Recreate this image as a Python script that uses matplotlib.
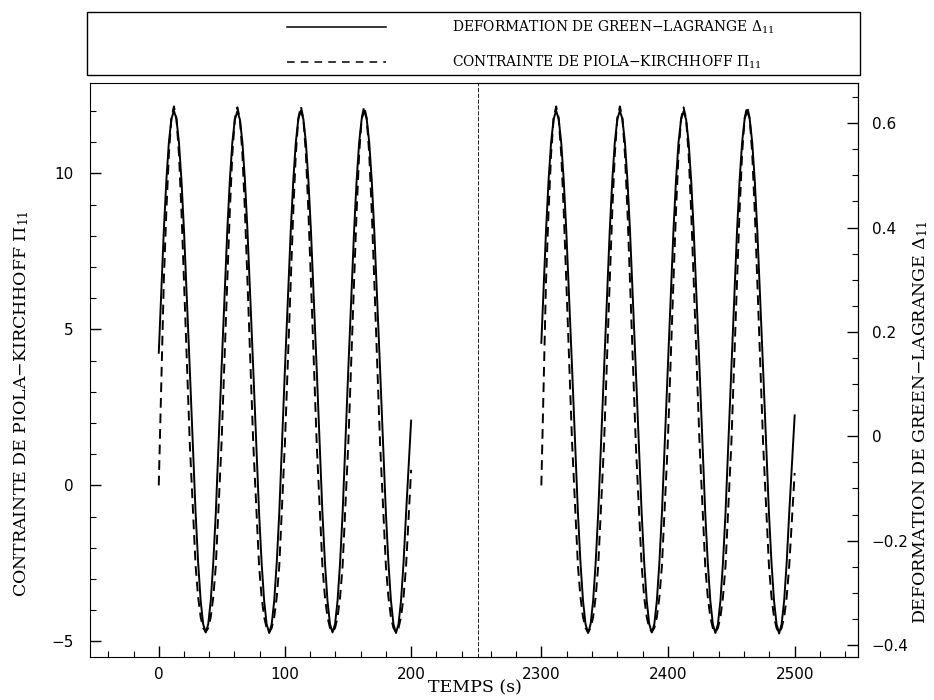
import matplotlib
matplotlib.use("Agg")
import matplotlib.pyplot as plt
from matplotlib.ticker import MultipleLocator, FixedLocator
from matplotlib.lines import Line2D
from matplotlib.patches import Rectangle

plt.rcParams['mathtext.fontset'] = 'dejavuserif'

# temps (s), premier bloc de cycles
t_a = [0,
       4, 6, 8, 10, 12, 14, 16, 18, 20,
       24.6,
       29.2, 31.2, 33.2, 35.2, 37.2, 39.2, 41.2, 43.2, 45.2,
       49.7,
       54.3, 56.3, 58.3, 60.3, 62.3, 64.3, 66.3, 68.3, 70.3,
       74.9,
       79.5, 81.5, 83.5, 85.5, 87.5, 89.5, 91.5, 93.5, 95.5,
       100,
       104.6, 106.6, 108.6, 110.6, 112.6, 114.6, 116.6, 118.6, 120.6,
       125.2,
       129.7, 131.7, 133.7, 135.7, 137.7, 139.7, 141.7, 143.7, 145.7,
       150.2,
       154.8, 156.8, 158.8, 160.8, 162.8, 164.8, 166.8, 168.8, 170.8,
       175.4,
       180, 182, 184, 186, 188, 190, 192, 194, 196,
       200]
# deformation de Green-Lagrange
eps_a = [0.160,
         0.394, 0.490, 0.563, 0.608, 0.624, 0.608, 0.563, 0.490, 0.394,
         0.128,
         -0.147, -0.242, -0.315, -0.360, -0.376, -0.360, -0.315, -0.242, -0.147,
         0.126,
         0.394, 0.490, 0.563, 0.607, 0.623, 0.607, 0.563, 0.490, 0.394,
         0.128,
         -0.147, -0.242, -0.315, -0.360, -0.377, -0.360, -0.315, -0.242, -0.147,
         0.130,
         0.394, 0.490, 0.563, 0.608, 0.624, 0.608, 0.563, 0.490, 0.394,
         0.127,
         -0.147, -0.242, -0.315, -0.360, -0.376, -0.360, -0.315, -0.242, -0.147,
         0.128,
         0.394, 0.490, 0.563, 0.608, 0.624, 0.608, 0.563, 0.490, 0.394,
         0.128,
         -0.147, -0.242, -0.315, -0.360, -0.377, -0.360, -0.315, -0.242, -0.147,
         0.030]
# contrainte de Piola-Kirchhoff
sig_a = [0.0,
         6.55, 8.78, 10.62, 11.77, 12.15, 11.77, 10.62, 8.78, 6.55,
         1.33,
         -2.58, -3.58, -4.22, -4.57, -4.69, -4.57, -4.22, -3.58, -2.58,
         1.30,
         6.55, 8.78, 10.62, 11.75, 12.12, 11.75, 10.62, 8.78, 6.55,
         1.33,
         -2.58, -3.58, -4.22, -4.57, -4.71, -4.57, -4.22, -3.58, -2.58,
         1.38,
         6.55, 8.78, 10.62, 11.77, 12.15, 11.77, 10.62, 8.78, 6.55,
         1.31,
         -2.58, -3.58, -4.22, -4.57, -4.69, -4.57, -4.22, -3.58, -2.58,
         1.33,
         6.55, 8.78, 10.62, 11.77, 12.15, 11.77, 10.62, 8.78, 6.55,
         1.33,
         -2.58, -3.58, -4.22, -4.57, -4.71, -4.57, -4.22, -3.58, -2.58,
         0.5]

# temps (s), second bloc de cycles
t_b = [2300,
       2303.7, 2305.7, 2307.7, 2309.7, 2311.7, 2313.7, 2315.7, 2317.7, 2319.7,
       2324.3,
       2328.9, 2330.9, 2332.9, 2334.9, 2336.9, 2338.9, 2340.9, 2342.9, 2344.9,
       2349.5,
       2354, 2356, 2358, 2360, 2362, 2364, 2366, 2368, 2370,
       2374.6,
       2379.2, 2381.2, 2383.2, 2385.2, 2387.2, 2389.2, 2391.2, 2393.2, 2395.2,
       2399.8,
       2404.3, 2406.3, 2408.3, 2410.3, 2412.3, 2414.3, 2416.3, 2418.3, 2420.3,
       2424.9,
       2429.4, 2431.4, 2433.4, 2435.4, 2437.4, 2439.4, 2441.4, 2443.4, 2445.4,
       2450,
       2454.5, 2456.5, 2458.5, 2460.5, 2462.5, 2464.5, 2466.5, 2468.5, 2470.5,
       2475.1,
       2479.7, 2481.7, 2483.7, 2485.7, 2487.7, 2489.7, 2491.7, 2493.7, 2495.7,
       2500]
eps_b = [0.179,
         0.394, 0.490, 0.563, 0.608, 0.624, 0.608, 0.563, 0.490, 0.394,
         0.129,
         -0.147, -0.242, -0.315, -0.360, -0.377, -0.360, -0.315, -0.242, -0.147,
         0.128,
         0.394, 0.490, 0.563, 0.608, 0.624, 0.608, 0.563, 0.490, 0.394,
         0.127,
         -0.147, -0.242, -0.315, -0.360, -0.376, -0.360, -0.315, -0.242, -0.147,
         0.128,
         0.394, 0.490, 0.563, 0.607, 0.623, 0.607, 0.563, 0.490, 0.394,
         0.129,
         -0.147, -0.242, -0.315, -0.360, -0.377, -0.360, -0.315, -0.242, -0.147,
         0.128,
         0.394, 0.490, 0.563, 0.608, 0.624, 0.608, 0.563, 0.490, 0.394,
         0.128,
         -0.147, -0.242, -0.315, -0.360, -0.378, -0.360, -0.315, -0.242, -0.147,
         0.040]
sig_b = [0.0,
         6.55, 8.78, 10.62, 11.77, 12.15, 11.77, 10.62, 8.78, 6.55,
         1.35,
         -2.58, -3.58, -4.22, -4.57, -4.71, -4.57, -4.22, -3.58, -2.58,
         1.33,
         6.55, 8.78, 10.62, 11.77, 12.15, 11.77, 10.62, 8.78, 6.55,
         1.31,
         -2.58, -3.58, -4.22, -4.57, -4.69, -4.57, -4.22, -3.58, -2.58,
         1.33,
         6.55, 8.78, 10.62, 11.75, 12.12, 11.75, 10.62, 8.78, 6.55,
         1.35,
         -2.58, -3.58, -4.22, -4.57, -4.71, -4.57, -4.22, -3.58, -2.58,
         1.33,
         6.55, 8.78, 10.62, 11.77, 12.15, 11.77, 10.62, 8.78, 6.55,
         1.33,
         -2.58, -3.58, -4.22, -4.57, -4.73, -4.57, -4.22, -3.58, -2.58,
         0.4]

lab_eps = r'DEFORMATION DE GREEN$-$LAGRANGE $\Delta_{11}$'
lab_sig = r'CONTRAINTE DE PIOLA$-$KIRCHHOFF $\Pi_{11}$'

W, H = 934, 700
fig = plt.figure(figsize=(W / 100, H / 100), dpi=100)
L, R, B, T = 90 / W, 858 / W, 1 - 657 / H, 1 - 83 / H
xb = 478 / W
ax1 = fig.add_axes([L, B, xb - L, T - B])
ax2 = fig.add_axes([xb, B, R - xb, T - B], sharey=ax1)
ax1t = ax1.twinx()
ax2t = ax2.twinx()

dash = (0, (5, 3))
ax1.plot(t_a, sig_a, color='black', lw=1.4, ls=dash)
ax2.plot(t_b, sig_b, color='black', lw=1.4, ls=dash)
ax1t.plot(t_a, eps_a, color='black', lw=1.4)
ax2t.plot(t_b, eps_b, color='black', lw=1.4)

ax1.set_xlim(-54.5, 253)
ax2.set_xlim(2250, 2550)
ax1.set_ylim(-5.5, 12.9)
ax1t.set_ylim(-0.423, 0.677)
ax2t.set_ylim(-0.423, 0.677)

tick_font = dict(family='DejaVu Sans', size=11)

# axe x
ax1.xaxis.set_major_locator(FixedLocator([0, 100, 200]))
ax2.xaxis.set_major_locator(FixedLocator([2300, 2400, 2500]))
ax1.set_xticklabels(['0', '100', '200'])
ax2.set_xticklabels(['2300', '2400', '2500'])
for ax in (ax1, ax2):
    ax.xaxis.set_minor_locator(MultipleLocator(20))
    ax.tick_params(axis='x', which='major', direction='in', length=8, width=1, pad=7)
    ax.tick_params(axis='x', which='minor', direction='in', length=4, width=0.8)
    for lbl in ax.get_xticklabels():
        lbl.set_fontproperties(tick_font)

# axe y gauche
ax1.yaxis.set_major_locator(FixedLocator([-5, 0, 5, 10]))
ax1.set_yticklabels(['\u22125', '0', '5', '10'])
ax1.yaxis.set_minor_locator(MultipleLocator(1))
ax1.tick_params(axis='y', which='major', direction='in', length=8, width=1, pad=12)
ax1.tick_params(axis='y', which='minor', direction='in', length=4, width=0.8)
for lbl in ax1.get_yticklabels():
    lbl.set_fontproperties(tick_font)
ax2.tick_params(axis='y', which='both', left=False, labelleft=False)

# axe y droit
ax2t.yaxis.set_major_locator(FixedLocator([-0.4, -0.2, 0, 0.2, 0.4, 0.6]))
ax2t.set_yticklabels(['\u22120.4', '\u22120.2', '0', '0.2', '0.4', '0.6'])
ax2t.yaxis.set_minor_locator(MultipleLocator(0.05))
ax2t.tick_params(axis='y', which='major', direction='in', length=8, width=1, pad=10)
ax2t.tick_params(axis='y', which='minor', direction='in', length=4, width=0.8)
for lbl in ax2t.get_yticklabels():
    lbl.set_fontproperties(tick_font)
ax1t.tick_params(axis='y', which='both', right=False, labelright=False)

# cadres et coupure
for sp in ax1t.spines.values():
    sp.set_visible(False)
ax2t.spines['left'].set_visible(False)
ax1.spines['right'].set_visible(False)
ax2.spines['left'].set_linestyle((0, (4, 3)))
ax2.spines['left'].set_linewidth(0.6)

# titres des axes
lab_font = dict(family='DejaVu Serif', size=12.5)
fig.text(0.508, 1 - 688 / H, 'TEMPS (s)', ha='center', va='center', fontdict=lab_font)
fig.text(22 / W, 1 - 404 / H, lab_sig, rotation=90, ha='center', va='center', fontdict=lab_font)
fig.text(921 / W, 1 - 422 / H, lab_eps, rotation=90, ha='center', va='center', fontdict=lab_font)

# legende encadree en haut
leg_font = dict(family='DejaVu Serif', size=10)
fig.patches.append(Rectangle((87 / W, 1 - 75 / H), (860 - 87) / W, 63 / H,
                             transform=fig.transFigure, fill=False, lw=1, ec='black'))
fig.lines.append(Line2D([287 / W, 386 / W], [1 - 27 / H, 1 - 27 / H],
                        transform=fig.transFigure, color='black', lw=1.1))
fig.lines.append(Line2D([287 / W, 386 / W], [1 - 62 / H, 1 - 62 / H],
                        transform=fig.transFigure, color='black', lw=1.1, ls=(0, (5, 4))))
fig.text(452 / W, 1 - 27 / H, lab_eps, ha='left', va='center', fontdict=leg_font)
fig.text(452 / W, 1 - 62 / H, lab_sig, ha='left', va='center', fontdict=leg_font)

fig.savefig('out.png', dpi=100, facecolor='white')
